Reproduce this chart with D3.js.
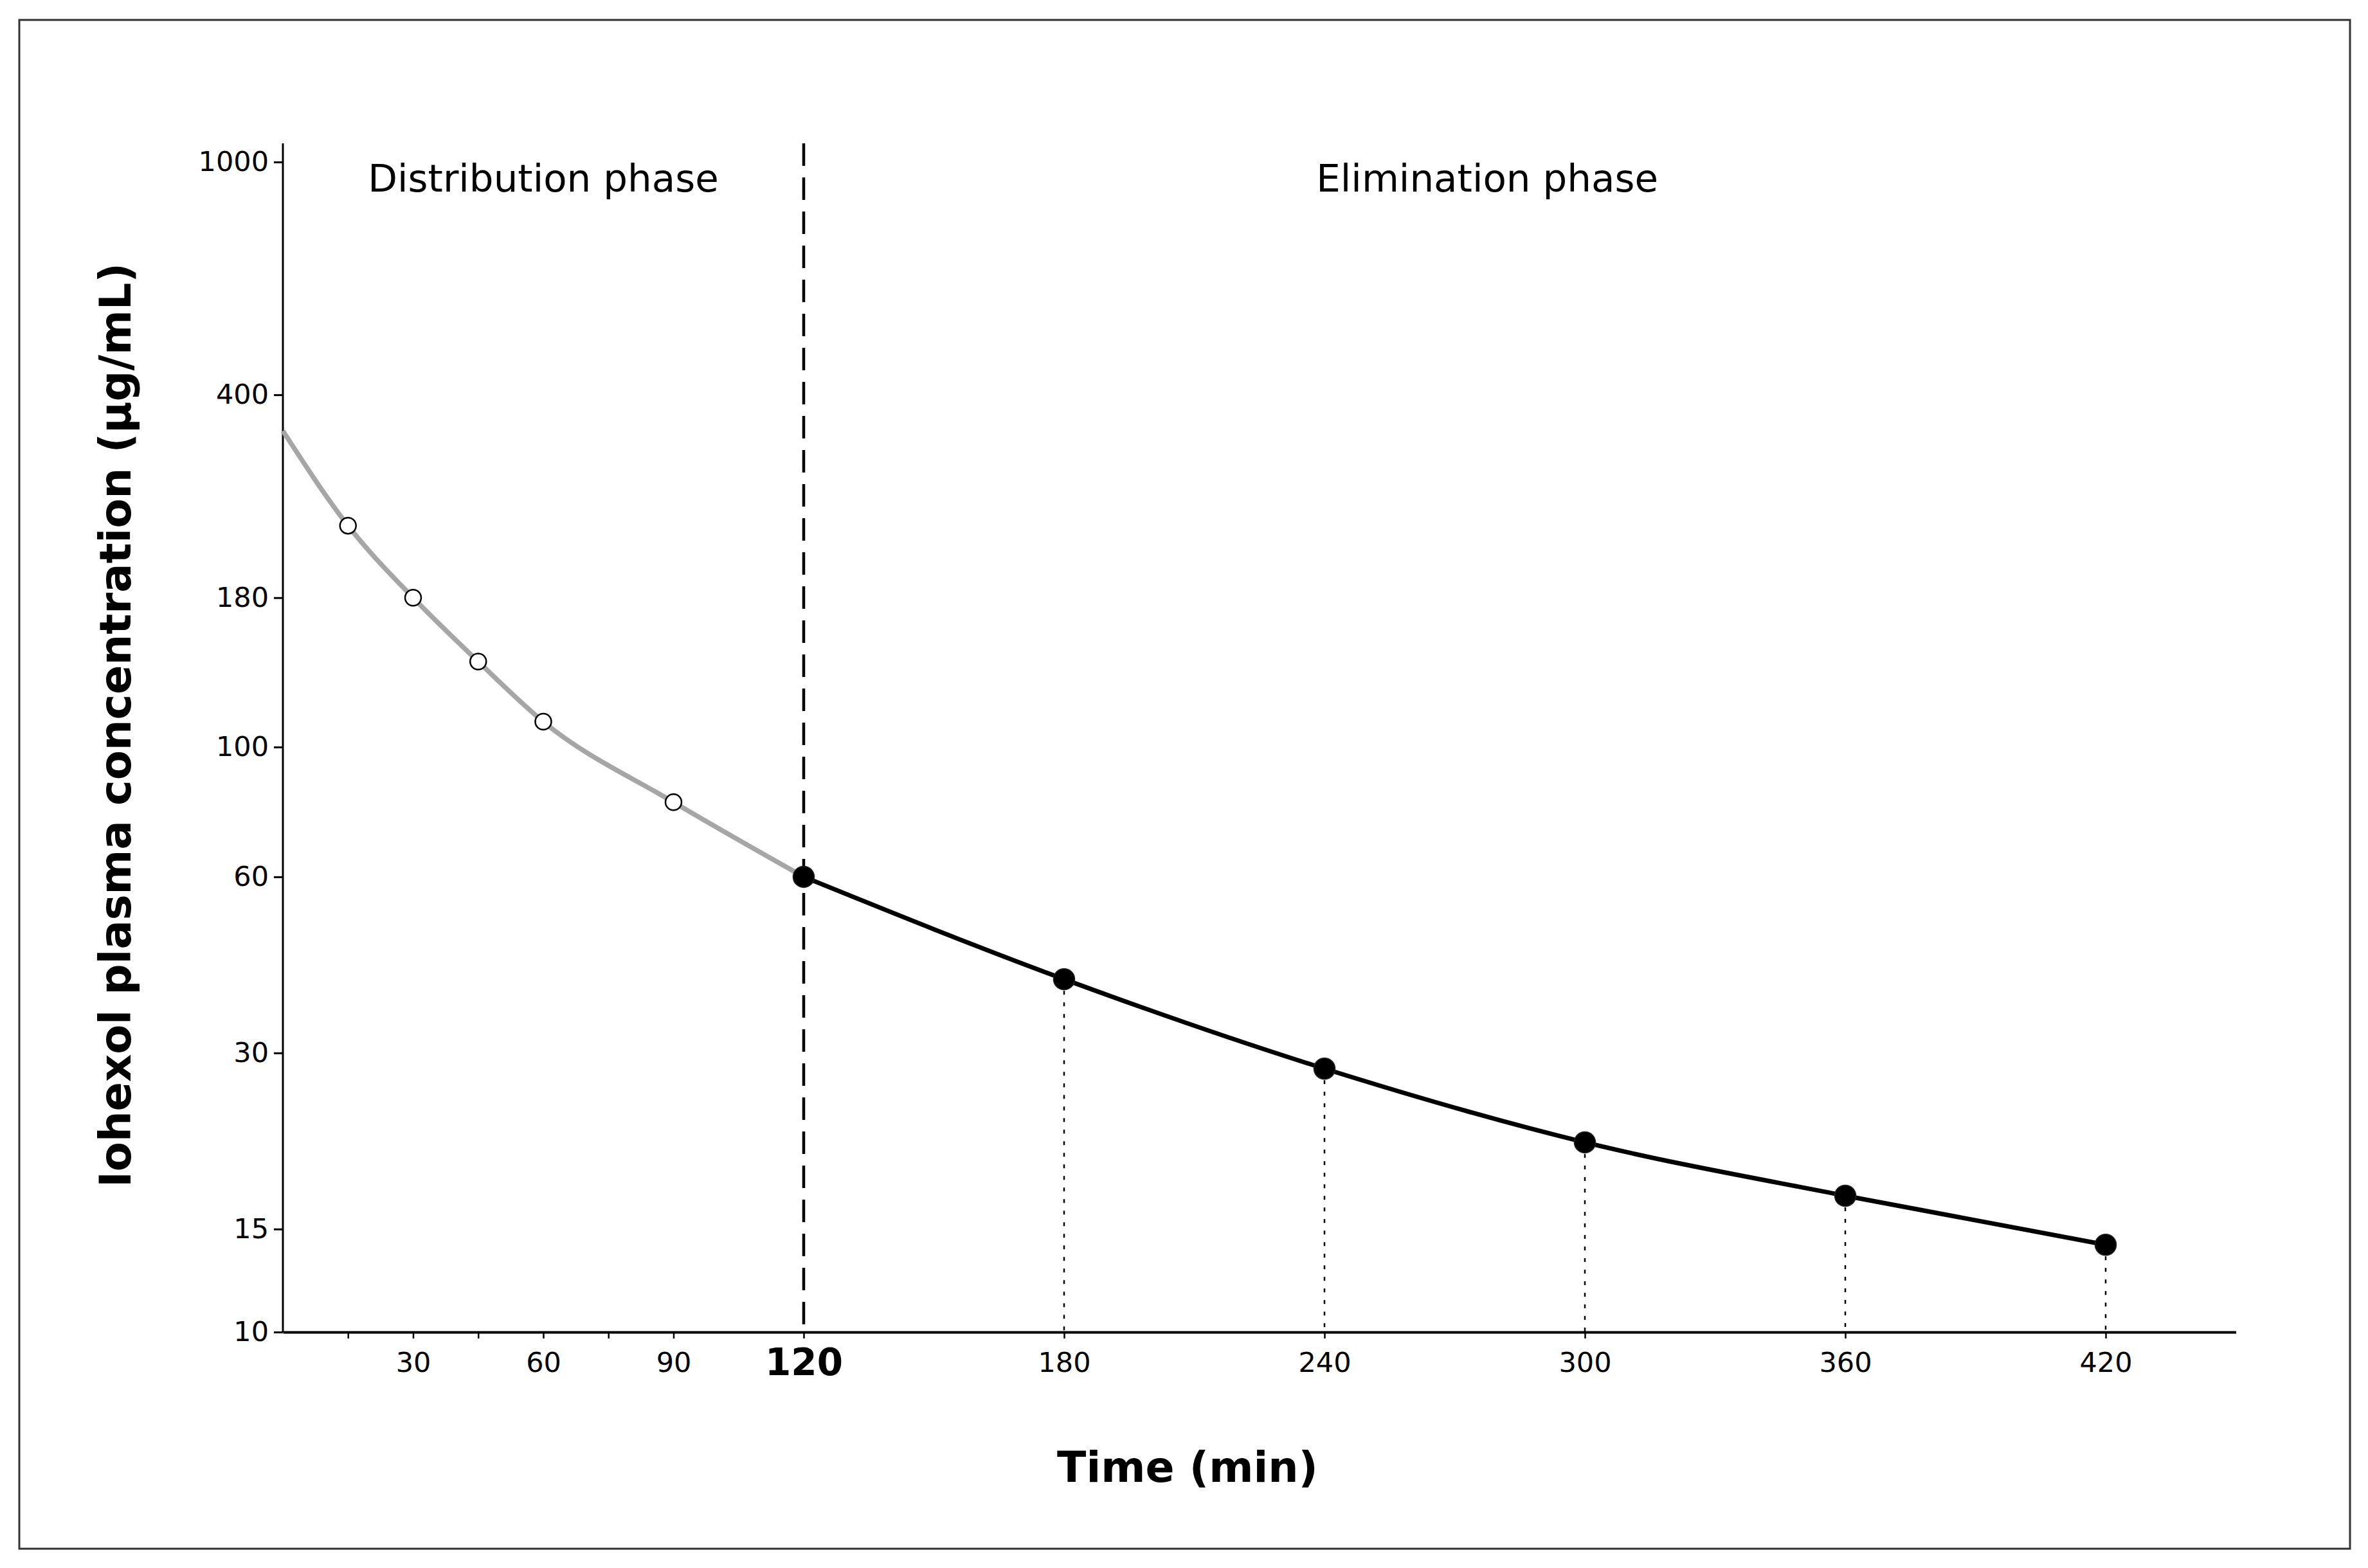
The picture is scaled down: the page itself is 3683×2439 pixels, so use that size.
<!DOCTYPE html>
<html>
<head>
<meta charset="utf-8">
<script src="https://cdn.jsdelivr.net/npm/d3@7"></script>
<style>
  html, body { margin: 0; padding: 0; background: #fff; }
  svg { display: block; font-family: "DejaVu Sans", sans-serif; }
</style>
</head>
<body>
<svg id="chart"></svg>
<script>
// distribution phase samples (open circles)
const distTimes = [15, 30, 45, 60, 90];
const distValues = [239, 180, 140, 110.5, 80.5];
// fitted curve for the distribution phase, from t = 0 to the 120 min sample
const distCurveTimes = [0, 15, 30, 45, 60, 90, 120];
const distCurveValues = [347, 239, 180, 140, 110.5, 80.5, 60];
// elimination phase samples (filled circles)
const elimTimes = [120, 180, 240, 300, 360, 420];
const elimValues = [60, 40.1, 28.2, 21.1, 17.1, 14.1];

const yTickValues = [10, 15, 30, 60, 100, 180, 400, 1000];
const xTickValues = [15, 30, 45, 60, 75, 90, 120, 180, 240, 300, 360, 420];
const xLabelled = [30, 60, 90, 120, 180, 240, 300, 360, 420];
const phaseNames = ["Distribution phase", "Elimination phase"];
const phaseAt = [60, 277.5]; // minutes
const splitTime = 120;

const W = 3683, H = 2439;
const svg = d3.select("#chart").attr("width", W).attr("height", H);

// frame
svg.append("rect")
  .attr("x", 30).attr("y", 31)
  .attr("width", 3625).attr("height", 2378)
  .attr("fill", "none")
  .attr("stroke", "#333")
  .attr("stroke-width", 3);

const x = d3.scaleLinear().domain([0, 450]).range([440, 3477.5]);
const y = d3.scaleLog().domain([10, 1000]).range([2072, 252]);
const yTop = 223;

// y axis
const yAxis = svg.append("g")
  .attr("transform", `translate(${x(0)},0)`)
  .call(d3.axisLeft(y)
    .tickValues(yTickValues)
    .tickFormat(d3.format("d"))
    .tickSize(14)
    .tickPadding(8));
yAxis.select(".domain").remove();
yAxis.append("line")
  .attr("x1", 0).attr("x2", 0)
  .attr("y1", y(10)).attr("y2", yTop)
  .attr("stroke", "#000").attr("stroke-width", 3);
yAxis.selectAll(".tick line").attr("stroke", "#000").attr("stroke-width", 3);
yAxis.selectAll(".tick text")
  .attr("fill", "#000")
  .attr("font-size", 43)
  .attr("font-family", "DejaVu Sans");

// x axis
const xAxis = svg.append("g")
  .attr("transform", `translate(0,${y(10)})`)
  .call(d3.axisBottom(x)
    .tickValues(xTickValues)
    .tickFormat(d => xLabelled.includes(d) ? d : "")
    .tickSize(10)
    .tickSizeOuter(0)
    .tickPadding(21));
xAxis.select(".domain").attr("stroke", "#000").attr("stroke-width", 4);
xAxis.selectAll(".tick line").attr("stroke", "#000").attr("stroke-width", 2.5);
xAxis.selectAll(".tick text")
  .attr("fill", "#000")
  .attr("font-family", "DejaVu Sans")
  .attr("font-size", d => d === splitTime ? 58 : 43)
  .attr("font-weight", d => d === splitTime ? "bold" : "normal")
  .attr("dy", d => d === splitTime ? "0.62em" : "0.71em");

// phase divider
svg.append("line")
  .attr("x1", x(splitTime)).attr("x2", x(splitTime))
  .attr("y1", yTop).attr("y2", y(10))
  .attr("stroke", "#000")
  .attr("stroke-width", 4.5)
  .attr("stroke-dasharray", "35,18");

// dotted drop lines for elimination samples
svg.append("g").selectAll("line")
  .data(elimTimes.filter(t => t !== splitTime))
  .join("line")
  .attr("x1", d => x(d)).attr("x2", d => x(d))
  .attr("y1", (d) => y(elimValues[elimTimes.indexOf(d)]))
  .attr("y2", y(10))
  .attr("stroke", "#000")
  .attr("stroke-width", 2.5)
  .attr("stroke-dasharray", "6,12");

const line = d3.line()
  .x(d => x(d[0]))
  .y(d => y(d[1]))
  .curve(d3.curveMonotoneX);

// distribution curve (grey)
svg.append("path")
  .datum(distCurveTimes.map((t, i) => [t, distCurveValues[i]]))
  .attr("d", line)
  .attr("fill", "none")
  .attr("stroke", "#a6a6a6")
  .attr("stroke-width", 7.5);

// elimination curve (black)
svg.append("path")
  .datum(elimTimes.map((t, i) => [t, elimValues[i]]))
  .attr("d", line)
  .attr("fill", "none")
  .attr("stroke", "#000")
  .attr("stroke-width", 7);

// open circles
svg.append("g").selectAll("circle")
  .data(distTimes.map((t, i) => [t, distValues[i]]))
  .join("circle")
  .attr("cx", d => x(d[0]))
  .attr("cy", d => y(d[1]))
  .attr("r", 12.5)
  .attr("fill", "#fff")
  .attr("stroke", "#000")
  .attr("stroke-width", 2.5);

// filled circles
svg.append("g").selectAll("circle")
  .data(elimTimes.map((t, i) => [t, elimValues[i]]))
  .join("circle")
  .attr("cx", d => x(d[0]))
  .attr("cy", d => y(d[1]))
  .attr("r", 16.5)
  .attr("fill", "#000")
  .attr("stroke", "#222")
  .attr("stroke-width", 1.5);

// phase labels
svg.append("g").selectAll("text")
  .data(phaseNames)
  .join("text")
  .attr("x", (d, i) => x(phaseAt[i]))
  .attr("y", 298)
  .attr("text-anchor", "middle")
  .attr("font-size", 59.5)
  .attr("fill", "#000")
  .text(d => d);

// axis titles
svg.append("text")
  .attr("x", 1847).attr("y", 2305)
  .attr("text-anchor", "middle")
  .attr("font-size", 66.5)
  .attr("font-weight", "bold")
  .attr("fill", "#000")
  .text("Time (min)");

svg.append("text")
  .attr("transform", "translate(203,1128) rotate(-90)")
  .attr("text-anchor", "middle")
  .attr("font-size", 67)
  .attr("font-weight", "bold")
  .attr("fill", "#000")
  .text("Iohexol plasma concentration (μg/mL)");
</script>
</body>
</html>
